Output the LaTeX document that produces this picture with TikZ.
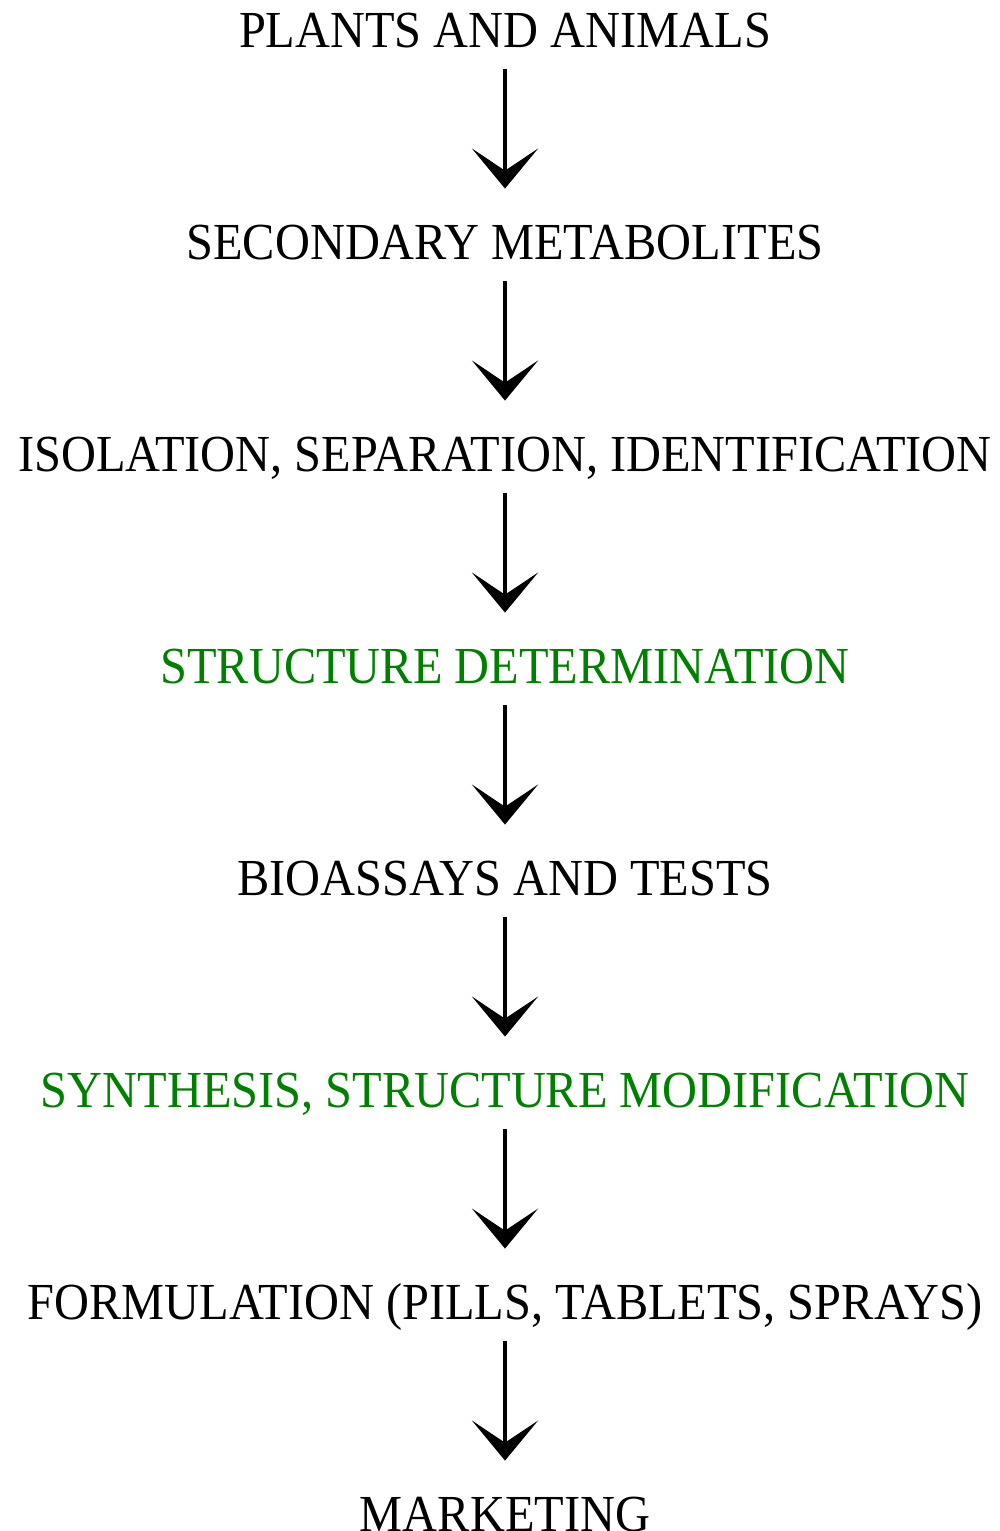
\documentclass[tikz,border=0pt]{standalone}
\usepackage{fontspec}
\setmainfont{Liberation Serif}
\usetikzlibrary{arrows.meta}
\definecolor{stepgreen}{RGB}{0,128,0}
\begin{document}
\begin{tikzpicture}[x=0.5pt,y=-0.5pt,
  label/.style={anchor=base,inner sep=0pt,text height=17pt,text depth=0pt,xscale=0.93,font=\fontsize{26}{30}\selectfont},
  green/.style={text=stepgreen},
  flow/.style={line width=2pt,shorten <=11pt,shorten >=18pt,
    -{Stealth[length=20pt,width=33pt,inset=11pt]}}]
\useasboundingbox (0,0) rectangle (1000,1531);
\clip (0,0) rectangle (1000,1531);
\node[label] (n1) at (505,47) {PLANTS AND ANIMALS};
\node[label] (n2) at (505,259) {SECONDARY METABOLITES};
\node[label] (n3) at (505,471) {ISOLATION, SEPARATION, IDENTIFICATION};
\node[label,green] (n4) at (505,683) {STRUCTURE DETERMINATION};
\node[label] (n5) at (505,895) {BIOASSAYS AND TESTS};
\node[label,green] (n6) at (505,1107) {SYNTHESIS, STRUCTURE MODIFICATION};
\node[label] (n7) at (505,1319) {FORMULATION (PILLS, TABLETS, SPRAYS)};
\node[label] (n8) at (505,1531) {MARKETING};
\foreach \a/\b in {n1/n2,n2/n3,n3/n4,n4/n5,n5/n6,n6/n7,n7/n8}
  \draw[flow] (\a.south) -- (\b.north);
\end{tikzpicture}
\end{document}
